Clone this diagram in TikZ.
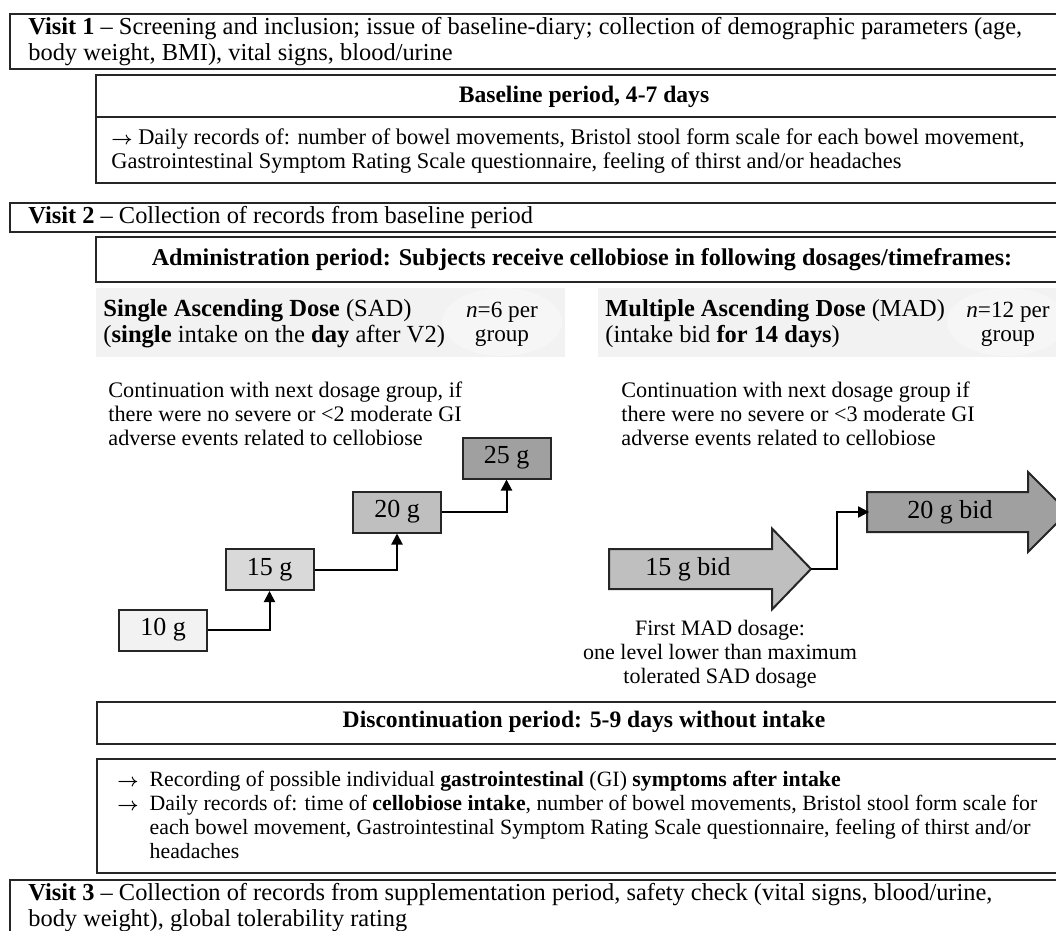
\documentclass[tikz,border=0pt]{standalone}
\usepackage{fontspec}
\setmainfont{Liberation Serif}
\usetikzlibrary{arrows.meta}
\definecolor{hdrgray}{HTML}{F2F2F2}
\definecolor{ellgray}{HTML}{F6F6F6}
\definecolor{gA}{HTML}{F2F2F2}
\definecolor{gB}{HTML}{D9D9D9}
\definecolor{gC}{HTML}{BFBFBF}
\definecolor{gD}{HTML}{A0A0A0}
\definecolor{frm}{HTML}{262626}
\newcommand{\smarr}{{\fontsize{9.5}{9.5}\selectfont\boldmath$\rightarrow$}}
\tikzset{
  frame/.style={draw=frm, line width=1.3pt},
  txt/.style={inner sep=0pt, font=\fontsize{#1}{12.5}\selectfont, align=left},
  txt/.default=11.8,
  ctxt/.style={inner sep=0pt, font=\fontsize{#1}{12}\selectfont, align=center},
  ctxt/.default=11.8,
  visittxt/.style={inner sep=0pt, font=\fontsize{12.2}{13}\selectfont, align=left, anchor=west},
  dosebox/.style={draw=frm, line width=1pt, minimum width=44pt, minimum height=20.5pt, inner sep=0pt, font=\fontsize{13}{14}\selectfont},
  madbody/.style={minimum width=#1, minimum height=20pt, inner sep=0pt, font=\fontsize{13}{14}\selectfont},
  conn/.style={draw=black, line width=1pt, -{Triangle[length=5.5pt,width=5.5pt]}},
  madarrow/.style={draw=frm, line width=1pt, line join=miter},
}
\begin{document}
\begin{tikzpicture}[x=0.5pt,y=-0.5pt]
\useasboundingbox (0,0) rectangle (1056,931);

% Visit 1
\draw[frame] (10,14) rectangle (1072,69);
\node[visittxt] (v1) at (28,42) {\textbf{Visit 1} – Screening and inclusion; issue of baseline-diary; collection of demographic parameters (age,\\ body weight, BMI), vital signs, blood/urine};

% Baseline
\draw[frame] (96,75) rectangle (1072,183);
\draw[frame] (96,117) -- (1072,117);
\node[txt] (bh) at (584,97) {\textbf{Baseline period, 4-7 days}};
\node[inner sep=0pt, font=\fontsize{11.2}{12}\selectfont, align=left, anchor=west] (bb) at (111,151) {\smarr\ Daily records of: number of bowel movements, Bristol stool form scale for each bowel movement,\\ Gastrointestinal Symptom Rating Scale questionnaire, feeling of thirst and/or headaches};

% Visit 2
\draw[frame] (10,203) rectangle (1072,232);
\node[visittxt] (v2) at (28,218) {\textbf{Visit 2} – Collection of records from baseline period};

% Administration
\draw[frame] (96,237) rectangle (1072,282);
\node[txt=12.05] (adm) at (582,260) {\textbf{Administration period: Subjects receive cellobiose in following dosages/timeframes:}};

% SAD / MAD headers
\fill[hdrgray] (96,288) rectangle (565,357);
\fill[ellgray] (502,322) ellipse [x radius=60, y radius=34];
\fill[hdrgray] (598,288) rectangle (1072,357);
\fill[ellgray] (1007,322) ellipse [x radius=60, y radius=34];
\node[inner sep=0pt, font=\fontsize{12.3}{13}\selectfont, align=left, anchor=west] (sad) at (103,324) {\textbf{Single Ascending Dose} (SAD)\\ (\textbf{single} intake on the \textbf{day} after V2)};
\node[ctxt=11.6] (n6) at (502,324) {\textit{n}=6 per\\ group};
\node[inner sep=0pt, font=\fontsize{12.2}{13}\selectfont, align=left, anchor=west] (mad) at (605,324) {\textbf{Multiple Ascending Dose} (MAD)\\ (intake bid \textbf{for 14 days})};
\node[ctxt=11.6] (n12) at (1008,324) {\textit{n}=12 per\\ group};

% Continuation texts
\node[inner sep=0pt, font=\fontsize{11.1}{12}\selectfont, align=left, anchor=west] (c1) at (108,414) {Continuation with next dosage group, if\\ there were no severe or <2 moderate GI\\ adverse events related to cellobiose};
\node[inner sep=0pt, font=\fontsize{11.1}{12}\selectfont, align=left, anchor=west] (c2) at (621,414) {Continuation with next dosage group if\\ there were no severe or <3 moderate GI\\ adverse events related to cellobiose};

% SAD dose boxes
\node[dosebox, fill=gA] (d10) at (163,630) {10 g};
\node[dosebox, fill=gB] (d15) at (269.5,569.5) {15 g};
\node[dosebox, fill=gC] (d20) at (397,512) {20 g};
\node[dosebox, fill=gD] (d25) at (506.5,458) {25 g};
\draw[conn] (d10.east) -| (d15.south);
\draw[conn] (d15.east) -| (d20.south);
\draw[conn] (d20.east) -| (d25.south);

% MAD arrows
\draw[madarrow, fill=gC] (609,549) -- (772,549) -- (772,528.5) -- (811,569) -- (772,609.5) -- (772,589) -- (609,589) -- cycle;
\node[madbody=81.5pt] (m15) at (688,569) {15 g bid};
\coordinate (m15tip) at (811,569);
\draw[madarrow, fill=gD] (867,492) -- (1028,492) -- (1028,472) -- (1068,512) -- (1028,552) -- (1028,532) -- (867,532) -- cycle;
\node[madbody=80.5pt] (m20) at (950,512) {20 g bid};
\draw[conn] (m15tip) -- ++(26,0) |- (m20.west);

\node[inner sep=0pt, font=\fontsize{11}{12}\selectfont, align=center] (first) at (720,654) {First MAD dosage:\\ one level lower than maximum\\ tolerated SAD dosage};

% Discontinuation
\draw[frame] (97,702) rectangle (1072,744);
\node[txt] (disc) at (584,722) {\textbf{Discontinuation period: 5-9 days without intake}};

% Records
\draw[frame] (97,759) rectangle (1072,873);
\node[inner sep=0pt, font=\fontsize{10.9}{12}\selectfont, align=left, anchor=west] (rec) at (117,818) {\renewcommand{\arraystretch}{1}\begin{tabular}{@{}l@{\hspace{5.5pt}}l@{}}
\smarr & Recording of possible individual \textbf{gastrointestinal} (GI) \textbf{symptoms after intake}\\
\smarr & Daily records of: time of \textbf{cellobiose intake}, number of bowel movements, Bristol stool form scale for\\
 & each bowel movement, Gastrointestinal Symptom Rating Scale questionnaire, feeling of thirst and/or\\
 & headaches
\end{tabular}};

% Visit 3
\draw[frame] (10,880) rectangle (1072,960);
\node[visittxt] (v3) at (28,908) {\textbf{Visit 3} – Collection of records from supplementation period, safety check (vital signs, blood/urine,\\ body weight), global tolerability rating};
\end{tikzpicture}
\end{document}
